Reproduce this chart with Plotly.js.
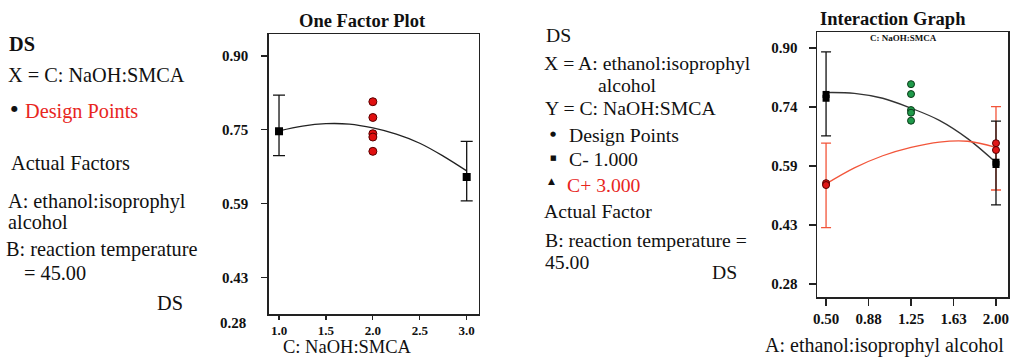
<!DOCTYPE html>
<html>
<head>
<meta charset="utf-8">
<script src="https://cdn.plot.ly/plotly-3.0.1.min.js"></script>
<style>
html,body{margin:0;padding:0;background:#fff;}
#chart{width:1012px;height:357px;}
</style>
</head>
<body>
<div id="chart"></div>
<script>
// ---------- One Factor Plot (C: NaOH:SMCA) ----------
const ofX = [1.0, 3.0];
const ofY = [0.742, 0.646];
const ofErrHi = [0.818, 0.721];
const ofErrLo = [0.691, 0.596];
const ofDesignX = [2.0, 2.0, 2.0, 2.0, 2.0];
const ofDesignY = [0.804, 0.771, 0.737, 0.730, 0.700];
const ofCurveX = [1.0, 1.25, 1.5, 1.75, 2.0, 2.25, 2.5, 2.75, 3.0];
const ofCurveY = [0.743, 0.753, 0.758, 0.757, 0.749, 0.736, 0.717, 0.690, 0.659];
const ofXTickVals = [1.0, 1.5, 2.0, 2.5, 3.0];
const ofXTickText = ['1.0', '1.5', '2.0', '2.5', '3.0'];
const ofYTickVals = [0.435, 0.59, 0.745, 0.90];
const ofYTickText = ['0.43', '0.59', '0.75', '0.90'];

// ---------- Interaction Graph (A: ethanol:isoprophyl alcohol) ----------
const igX = [0.5, 2.0];
const igLowY = [0.780, 0.598];      // C- 1.000
const igLowErrHi = [0.890, 0.708];
const igLowErrLo = [0.669, 0.488];
const igHighY = [0.539, 0.637];     // C+ 3.000
const igHighErrHi = [0.650, 0.746];
const igHighErrLo = [0.428, 0.527];
const igLowPtsX = [0.5, 0.5, 2.0, 2.0];
const igLowPtsY = [0.778, 0.768, 0.600, 0.594];
const igHighPtsX = [0.5, 0.5, 2.0, 2.0];
const igHighPtsY = [0.545, 0.540, 0.650, 0.632];
const igCenterX = [1.25, 1.25, 1.25, 1.25, 1.25];
const igCenterY = [0.805, 0.779, 0.737, 0.730, 0.709];
const igCurveX = [0.5, 0.75, 1.0, 1.25, 1.5, 1.75, 2.0];
const igLowCurveY = [0.783, 0.781, 0.768, 0.742, 0.710, 0.662, 0.599];
const igHighCurveY = [0.543, 0.585, 0.617, 0.639, 0.653, 0.655, 0.639];
const igXTickVals = [0.5, 0.875, 1.25, 1.625, 2.0];
const igXTickText = ['0.50', '0.88', '1.25', '1.63', '2.00'];
const igYTickVals = [0.28, 0.435, 0.59, 0.745, 0.90];
const igYTickText = ['0.28', '0.43', '0.59', '0.74', '0.90'];

const W = 1012, H = 357;
const px = v => v / W;
const py = v => 1 - v / H;
const SERIF = 'Liberation Serif, Times New Roman, serif';
const SANS = 'DejaVu Sans, sans-serif';
const RED = '#e8261e';
const ORANGE = '#f2553a';

const diff = (a, b) => a.map((v, i) => v - b[i]);

const traces = [
  {x: ofCurveX, y: ofCurveY, xaxis: 'x', yaxis: 'y', mode: 'lines', line: {color: '#222', width: 1.3, shape: 'spline'}},
  {x: ofX, y: ofY, xaxis: 'x', yaxis: 'y', mode: 'markers',
   marker: {symbol: 'square', size: 8, color: '#000'},
   error_y: {type: 'data', symmetric: false, array: diff(ofErrHi, ofY), arrayminus: diff(ofY, ofErrLo), color: '#111', thickness: 1.3, width: 6}},
  {x: ofDesignX, y: ofDesignY, xaxis: 'x', yaxis: 'y', mode: 'markers',
   marker: {symbol: 'circle', size: 8, color: '#e01010', line: {color: '#5a0000', width: 1}}},

  {x: igCurveX, y: igLowCurveY, xaxis: 'x2', yaxis: 'y2', mode: 'lines', line: {color: '#333', width: 1.3, shape: 'spline'}},
  {x: igCurveX, y: igHighCurveY, xaxis: 'x2', yaxis: 'y2', mode: 'lines', line: {color: ORANGE, width: 1.3, shape: 'spline'}},
  {x: igX, y: igHighY, xaxis: 'x2', yaxis: 'y2', mode: 'markers', marker: {size: 1, color: ORANGE, opacity: 0},
   error_y: {type: 'data', symmetric: false, array: diff(igHighErrHi, igHighY), arrayminus: diff(igHighY, igHighErrLo), color: ORANGE, thickness: 1.3, width: 5}},
  {x: igX, y: igLowY, xaxis: 'x2', yaxis: 'y2', mode: 'markers', marker: {size: 1, color: '#111', opacity: 0},
   error_y: {type: 'data', symmetric: false, array: diff(igLowErrHi, igLowY), arrayminus: diff(igLowY, igLowErrLo), color: '#111', thickness: 1.3, width: 5}},
  {x: igLowPtsX, y: igLowPtsY, xaxis: 'x2', yaxis: 'y2', mode: 'markers', marker: {symbol: 'square', size: 7, color: '#000'}},
  {x: igHighPtsX, y: igHighPtsY, xaxis: 'x2', yaxis: 'y2', mode: 'markers', marker: {symbol: 'circle', size: 7, color: '#e01818', line: {color: '#500', width: 1}}},
  {x: igCenterX, y: igCenterY, xaxis: 'x2', yaxis: 'y2', mode: 'markers', marker: {symbol: 'circle', size: 7, color: '#1f9a4a', line: {color: '#0a3a18', width: 1}}}
];

const axisCommon = {
  showline: true, linecolor: '#222', linewidth: 1.5, mirror: true,
  ticks: 'outside', ticklen: 6, tickwidth: 1.2, tickcolor: '#222',
  showgrid: false, zeroline: false, fixedrange: true,
  tickfont: {family: SERIF, size: 15, color: '#111', weight: 'bold'}
};

const layout = {
  width: W, height: H,
  margin: {l: 0, r: 0, t: 0, b: 0},
  paper_bgcolor: '#fff', plot_bgcolor: '#fff',
  showlegend: false,
  xaxis: Object.assign({}, axisCommon, {domain: [px(268.7), px(478.7)], range: [0.89, 3.128], tickvals: ofXTickVals, ticktext: ofXTickText, anchor: 'y',
    ticklen: 4, tickfont: {family: SERIF, size: 13, color: '#111', weight: 'bold'}}),
  yaxis: Object.assign({}, axisCommon, {domain: [py(314), py(34)], range: [0.359, 0.946], tickvals: ofYTickVals, ticktext: ofYTickText, anchor: 'x', ticklabelstandoff: 10}),
  xaxis2: Object.assign({}, axisCommon, {domain: [px(817), px(1008)], range: [0.42, 2.106], tickvals: igXTickVals, ticktext: igXTickText, anchor: 'y2', ticklen: 7}),
  yaxis2: Object.assign({}, axisCommon, {domain: [py(297), py(32)], range: [0.246, 0.942], tickvals: igYTickVals, ticktext: igYTickText, anchor: 'x2', ticklabelstandoff: 8, ticklen: 7}),
  annotations: []
};

function txt(text, x, y, opts) {
  opts = opts || {};
  layout.annotations.push({
    text: text, xref: 'paper', yref: 'paper', x: px(x), y: py(y),
    xanchor: opts.anchor || 'left', yanchor: 'middle', showarrow: false, borderpad: 0,
    font: {family: opts.family || SERIF, size: opts.size || 20.3, color: opts.color || '#111', weight: opts.weight || 'normal'}
  });
}

// titles
txt('One Factor Plot', 362, 21, {anchor: 'center', size: 18.5, weight: 'bold'});
txt('Interaction Graph', 893, 19, {anchor: 'center', size: 18.5, weight: 'bold'});
txt('C: NaOH:SMCA', 903, 38, {anchor: 'center', size: 9, weight: 'bold'});
txt('C: NaOH:SMCA', 347.5, 347, {anchor: 'center', size: 18.5});
txt('A: ethanol:isoprophyl alcohol', 884, 345, {anchor: 'center', size: 20});
txt('0.28', 247, 323, {anchor: 'right', size: 15, weight: 'bold'});

// left legend
txt('DS', 8, 44, {weight: 'bold'});
txt('X = C: NaOH:SMCA', 7, 75);
txt('●', 10, 108, {family: SANS, size: 8});
txt('Design Points', 24, 111, {color: RED});
txt('Actual Factors', 10, 163);
txt('A: ethanol:isoprophyl', 7, 201);
txt('alcohol', 7, 222);
txt('B: reaction temperature', 5, 250);
txt('= 45.00', 23, 273);
txt('DS', 156, 303);

// right legend
const RS = 19.7;
txt('DS', 545, 35, {size: RS});
txt('X = A: ethanol:isoprophyl', 543, 63, {size: RS});
txt('alcohol', 597, 85, {size: RS});
txt('Y = C: NaOH:SMCA', 544, 108, {size: RS});
txt('●', 549, 134, {family: SANS, size: 7});
txt('Design Points', 568, 135, {size: RS});
txt('■', 549, 158, {family: SANS, size: 7});
txt('C- 1.000', 568, 159, {size: RS});
txt('▲', 547, 181, {family: SANS, size: 9});
txt('C+ 3.000', 566, 185, {color: RED, size: RS});
txt('Actual Factor', 543, 211, {size: RS});
txt('B: reaction temperature =', 544, 240, {size: RS});
txt('45.00', 544, 262, {size: RS});
txt('DS', 711, 272, {size: RS});

Plotly.newPlot('chart', traces, layout, {staticPlot: true, displayModeBar: false});
</script>
</body>
</html>
